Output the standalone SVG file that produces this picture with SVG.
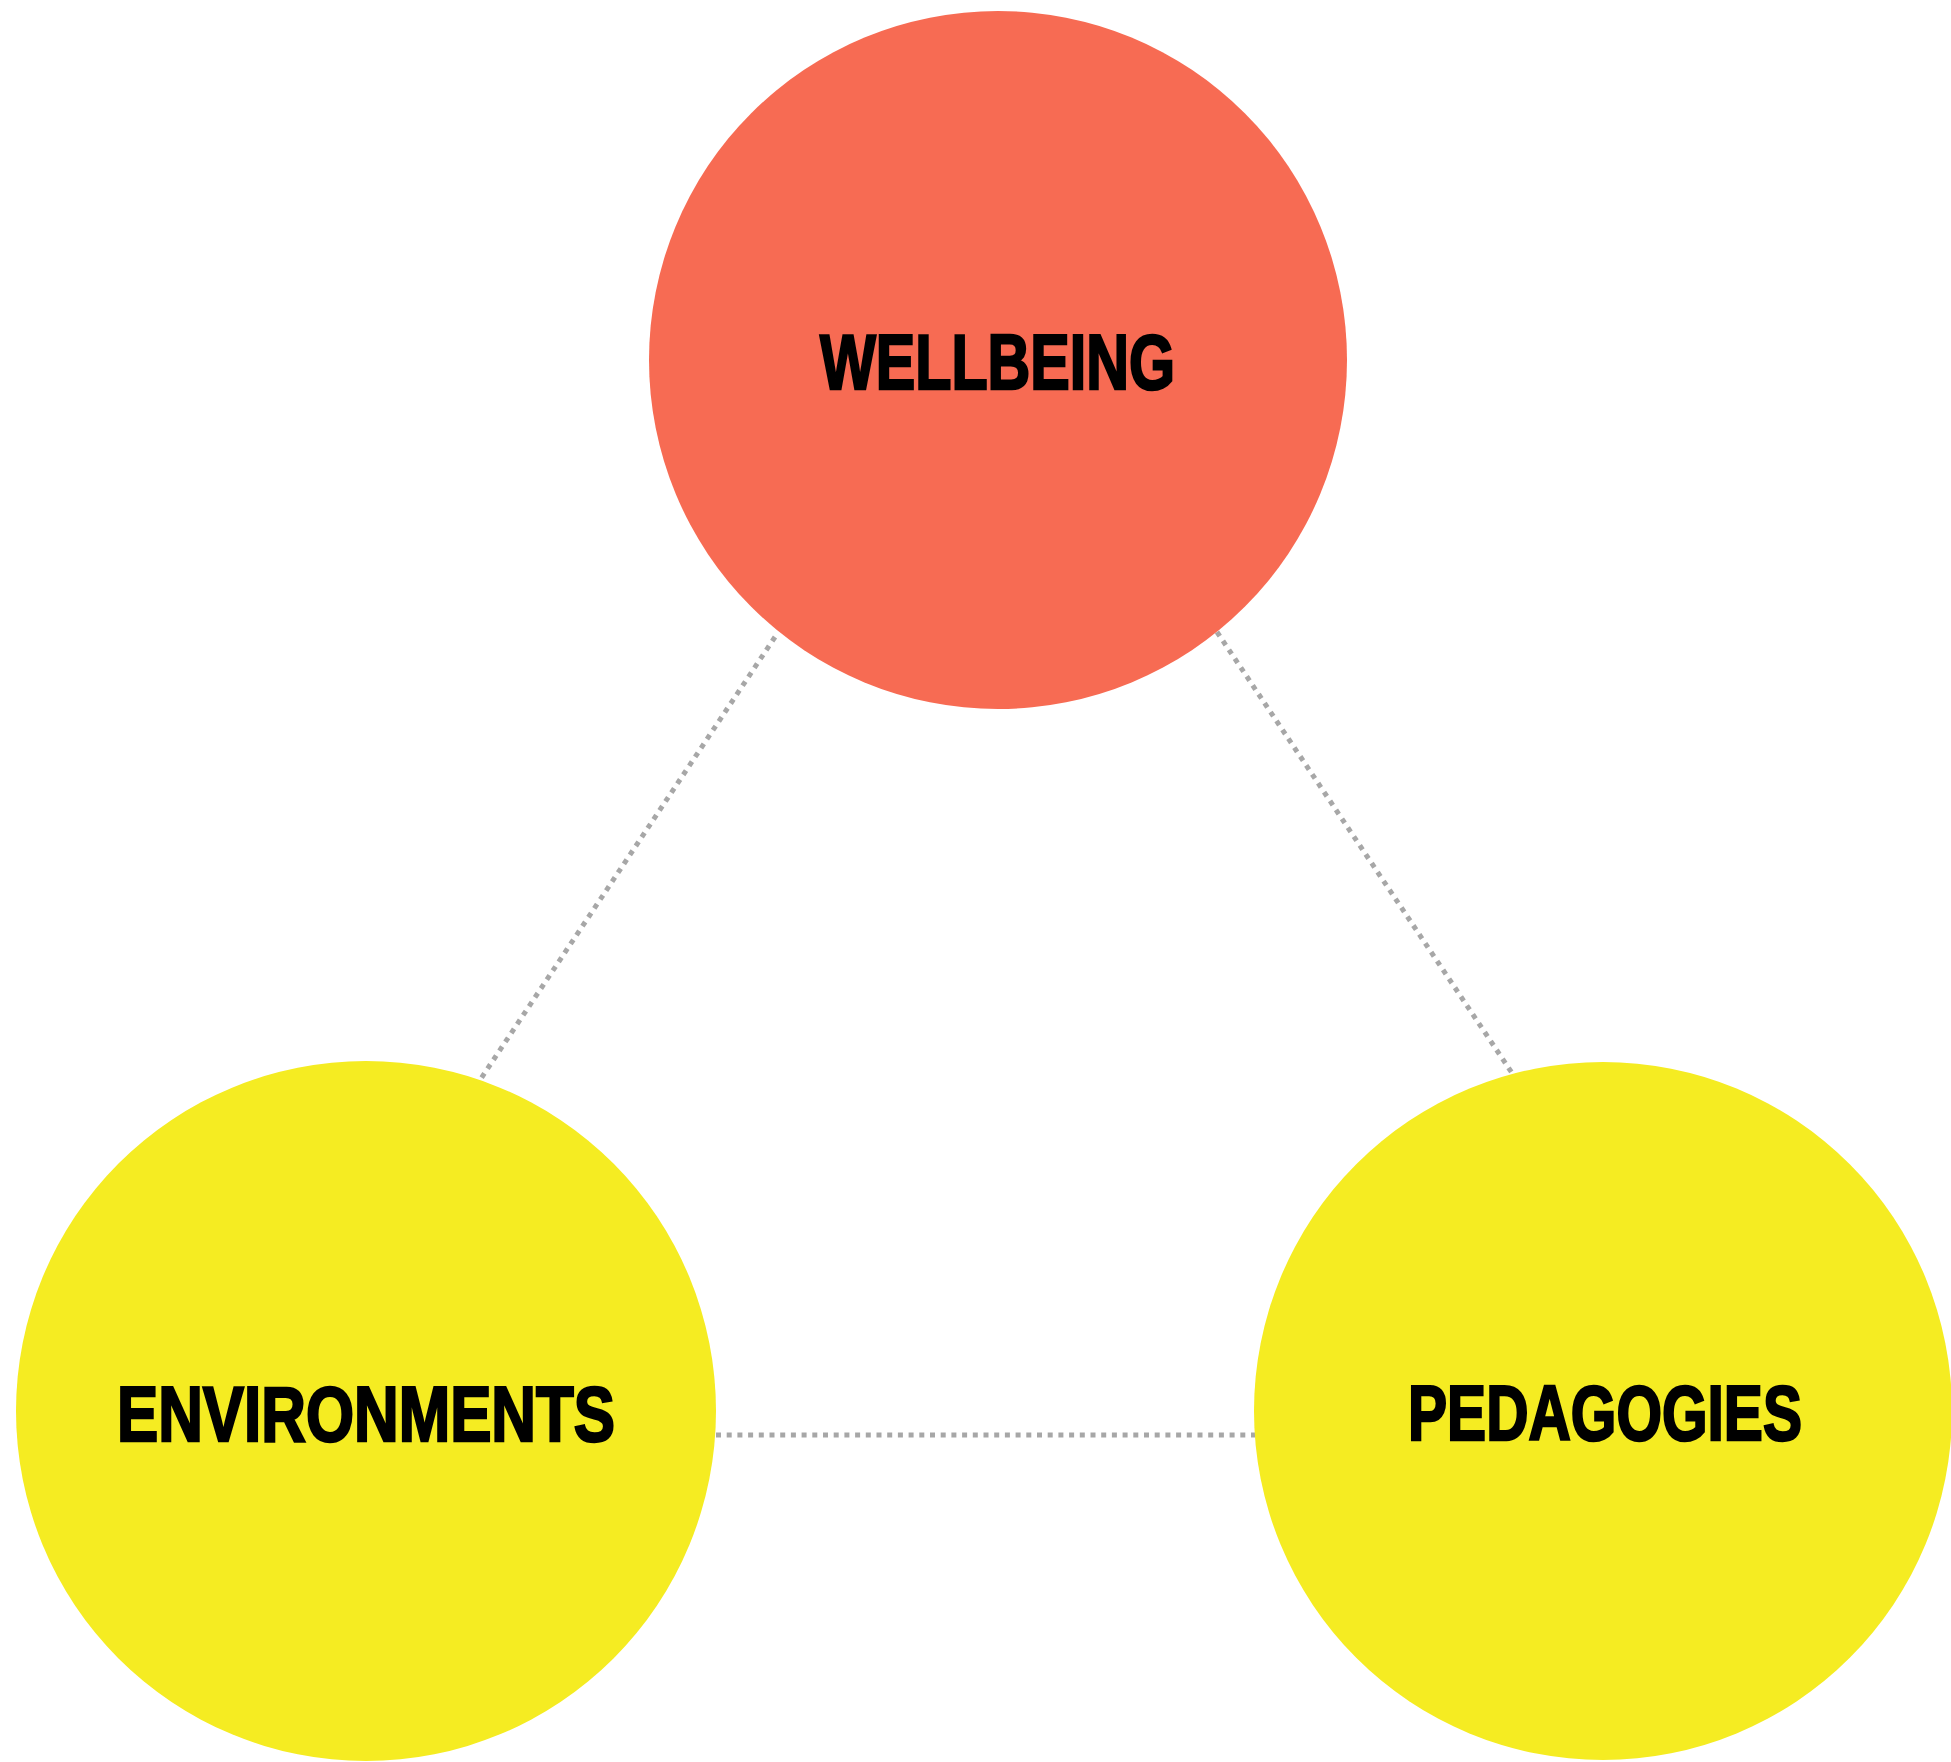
<svg xmlns="http://www.w3.org/2000/svg" width="1951" height="1762" viewBox="0 0 1951 1762">
<style>
.conn{stroke:#a7a7a7;stroke-width:5;stroke-dasharray:5 5.7;fill:none}
.lbl{font-family:"Liberation Sans","DejaVu Sans",sans-serif;font-weight:bold;font-size:77px;fill:#000;stroke:#000;stroke-width:2.5;stroke-linejoin:miter}
.red{fill:#F76B53}
.yel{fill:#F5EC22}
</style>
<rect width="1951" height="1762" fill="#fff"/>
<g id="connectors">
<line class="conn" x1="775" y1="637" x2="480" y2="1080"/>
<line class="conn" x1="1217" y1="632" x2="1512" y2="1073"/>
<line class="conn" x1="716" y1="1435" x2="1255" y2="1435"/>
</g>
<g id="wellbeing">
<circle class="red" cx="998" cy="360" r="349"/>
<text class="lbl" x="820" y="389" textLength="355" lengthAdjust="spacingAndGlyphs">WELLBEING</text>
</g>
<g id="environments">
<circle class="yel" cx="366" cy="1411" r="350"/>
<text class="lbl" x="117" y="1441" textLength="498" lengthAdjust="spacingAndGlyphs">ENVIRONMENTS</text>
</g>
<g id="pedagogies">
<circle class="yel" cx="1603" cy="1411" r="349"/>
<text class="lbl" x="1408" y="1440" textLength="394" lengthAdjust="spacingAndGlyphs">PEDAGOGIES</text>
</g>
</svg>
